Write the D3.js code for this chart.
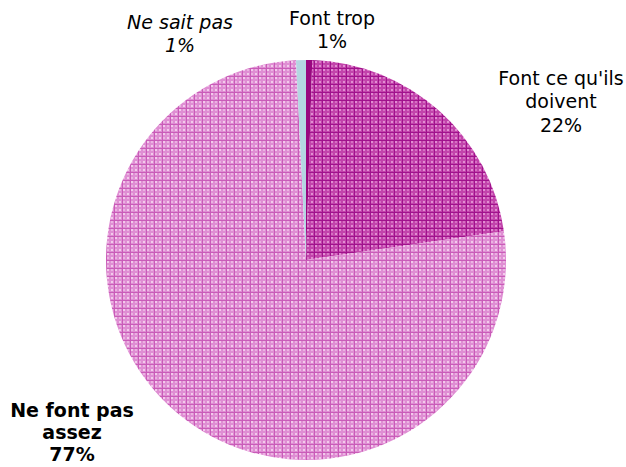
<!DOCTYPE html>
<html>
<head>
<meta charset="utf-8">
<script src="https://cdn.jsdelivr.net/npm/d3@7"></script>
<style>
  body { margin: 0; background: #fff; }
  text { font-family: "DejaVu Sans", Verdana, sans-serif; font-size: 19px; fill: #000; }
</style>
</head>
<body>
<svg width="626" height="467"></svg>
<script>
var categories = ['Font trop', "Font ce qu'ils doivent", 'Ne font pas assez', 'Ne sait pas'];
var values = [0.5, 22.2, 76.5, 0.8];
var pctLabels = ['1%', '22%', '77%', '1%'];
var labelLines = [['Font trop'], ['Font ce qu\'ils', 'doivent'], ['Ne font pas', 'assez'], ['Ne sait pas']];

var svg = d3.select('svg');
var defs = svg.append('defs');

// plaid-ish hatch patterns
function plaid(id, base, line, light) {
    var p = defs.append('pattern')
        .attr('id', id)
        .attr('patternUnits', 'userSpaceOnUse')
        .attr('width', 8).attr('height', 8);
    p.append('rect').attr('width', 8).attr('height', 8).attr('fill', base);
    p.append('rect').attr('x', 1).attr('y', 1).attr('width', 2).attr('height', 2).attr('fill', light);
    p.append('rect').attr('x', 5).attr('y', 5).attr('width', 2).attr('height', 2).attr('fill', light);
    p.append('rect').attr('x', 5).attr('y', 1).attr('width', 2).attr('height', 2).attr('fill', light).attr('opacity', 0.6);
    p.append('rect').attr('x', 1).attr('y', 5).attr('width', 2).attr('height', 2).attr('fill', light).attr('opacity', 0.6);
    p.append('rect').attr('x', 0).attr('y', 0).attr('width', 8).attr('height', 1).attr('fill', line);
    p.append('rect').attr('x', 0).attr('y', 0).attr('width', 1).attr('height', 8).attr('fill', line);
}
plaid('pDark', '#c244ab', '#a0128c', '#e28fd3');
plaid('pLight', '#df8ed3', '#c95cb8', '#f3cbec');

var fills = ['#99067f', 'url(#pDark)', 'url(#pLight)', '#b4d6e2'];

var cx = 306, cy = 260, r = 200;

var pie = d3.pie().sort(null).value(d => d)
    .startAngle(0).endAngle(2 * Math.PI);
var arc = d3.arc().innerRadius(0).outerRadius(r);

var g = svg.append('g').attr('transform', 'translate(' + cx + ',' + cy + ')');

g.selectAll('path')
    .data(pie(values))
    .enter().append('path')
    .attr('d', arc)
    .attr('fill', (d, i) => fills[i]);

// first-line centre of each label, relative to pie centre
var labelPos = [[26, -242], [255, -182], [-234, 150], [-126, -238]];
var labelStyle = [
    { weight: 'normal', style: 'normal' },
    { weight: 'normal', style: 'normal' },
    { weight: 'bold', style: 'normal' },
    { weight: 'normal', style: 'italic' }
];

categories.forEach((c, i) => {
    var lines = labelLines[i].concat([pctLabels[i]]);
    var t = g.append('text')
        .attr('text-anchor', 'middle')
        .attr('font-weight', labelStyle[i].weight)
        .attr('font-style', labelStyle[i].style);
    var lh = i == 2 ? 22 : 23.8;
    lines.forEach((l, k) => {
        t.append('tspan')
            .attr('x', labelPos[i][0])
            .attr('y', labelPos[i][1] + k * lh)
            .attr('dy', '0.35em')
            .text(l);
    });
});
</script>
</body>
</html>
